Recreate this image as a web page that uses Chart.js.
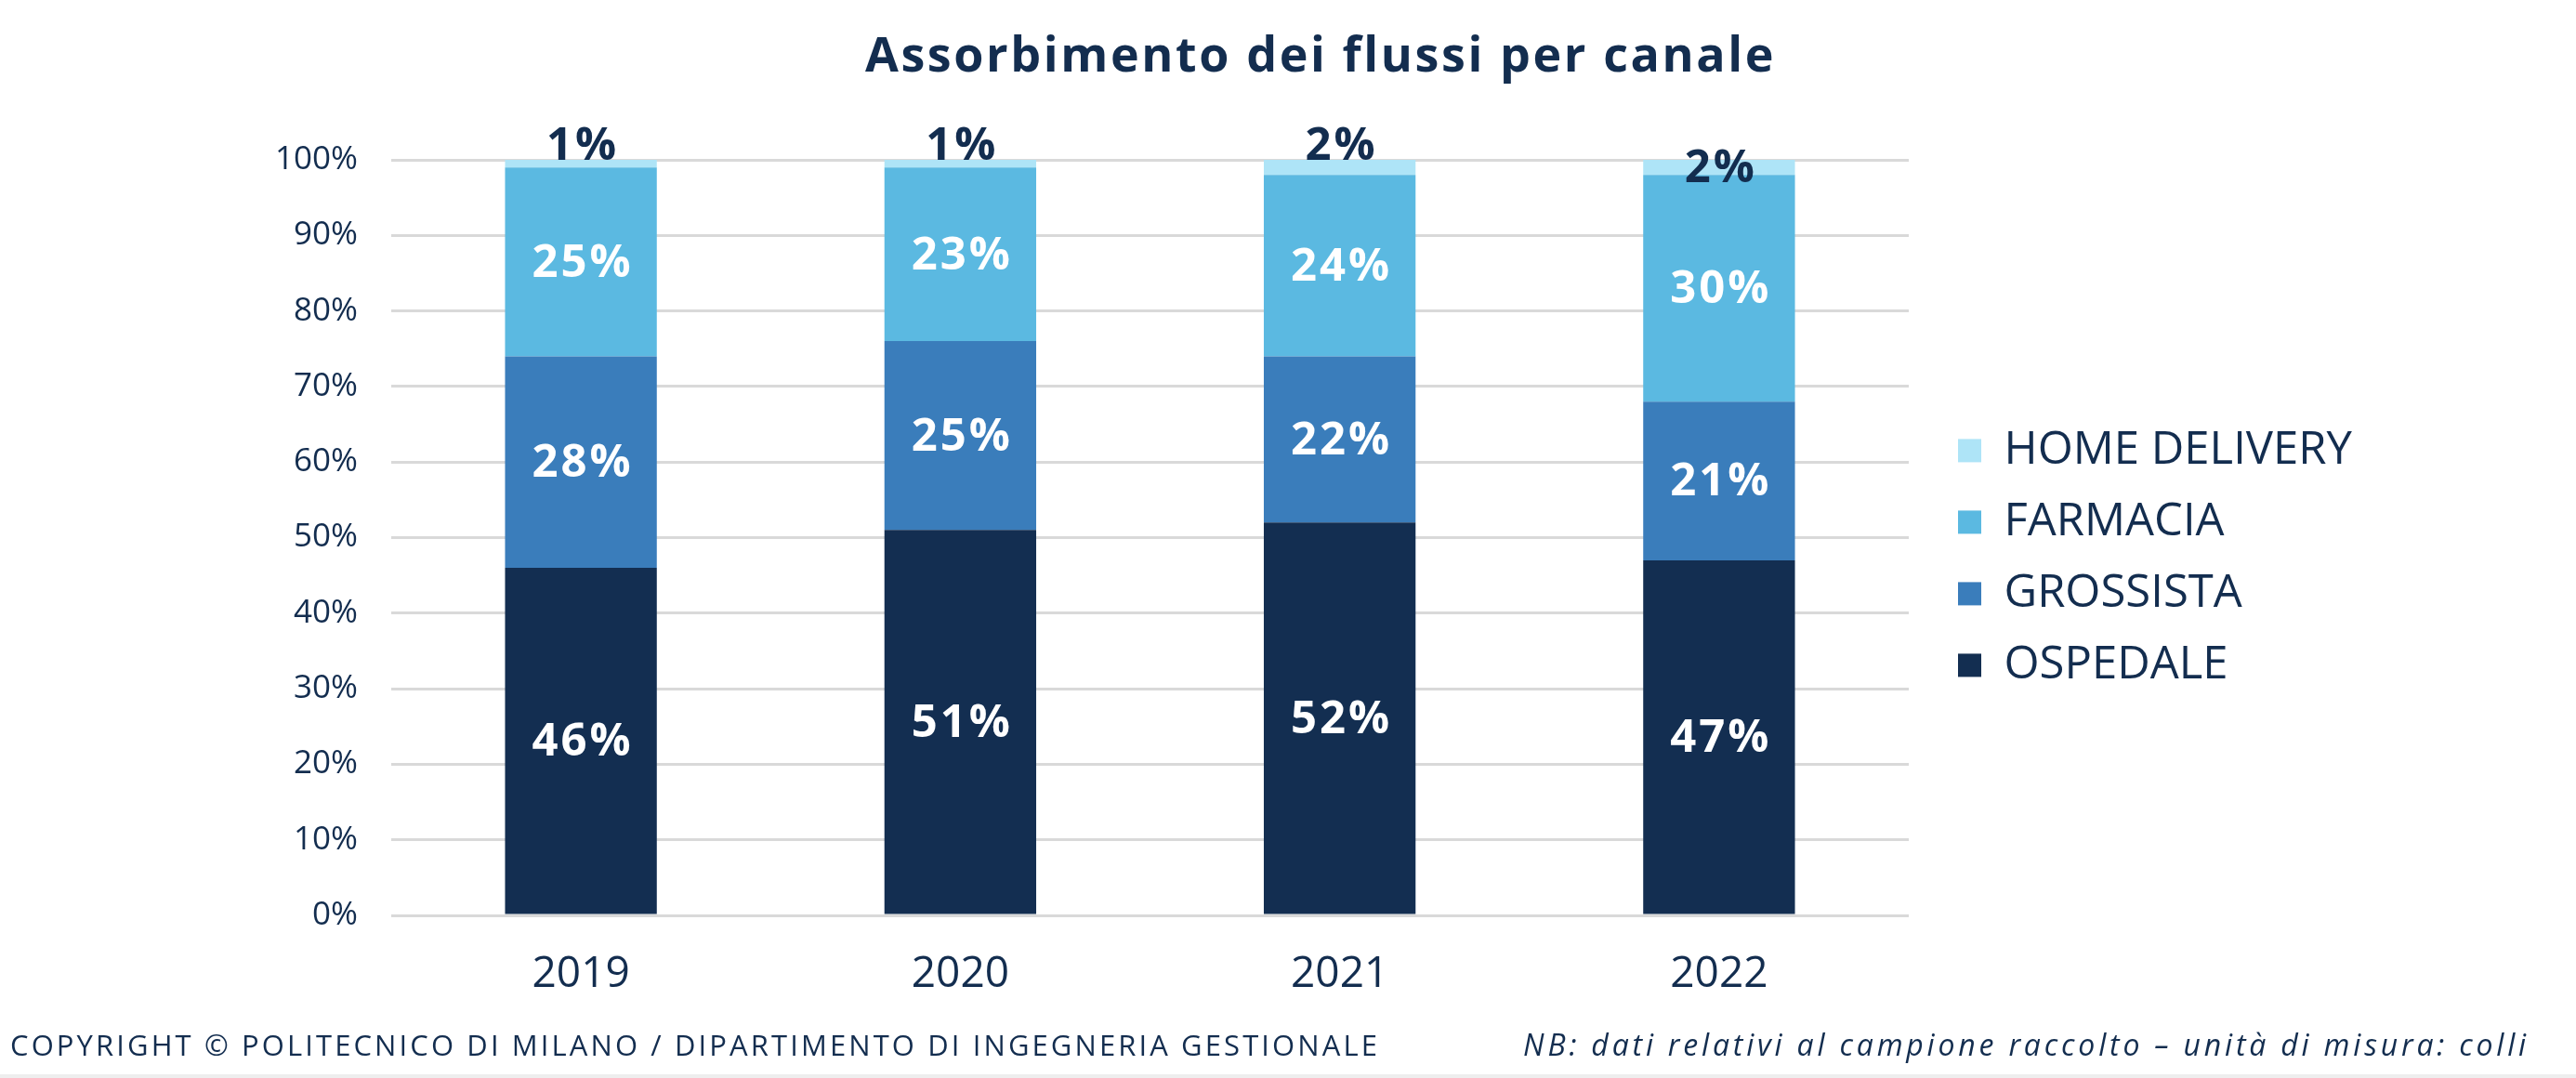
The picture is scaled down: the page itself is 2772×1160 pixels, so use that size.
<!DOCTYPE html>
<html>
<head>
<meta charset="utf-8">
<title>Assorbimento dei flussi per canale</title>
<script src="https://cdn.jsdelivr.net/npm/chart.js@4.4.1/dist/chart.umd.min.js"></script>
<style>
  html, body { margin: 0; padding: 0; background: #fff; }
  #wrap { position: relative; width: 2772px; height: 1160px; overflow: hidden; }
  #wrap canvas { position: absolute; left: 0; top: 0; }
  .txt { position: absolute; color: #132d4f; font-family: "Open Sans", sans-serif; white-space: nowrap; }
  #title { left: 1421px; top: 24px; transform: translateX(-50%); font-size: 52px; font-weight: 700; line-height: 66px; letter-spacing: 2.6px; }
  #copy { left: 11px; top: 1102px; font-size: 31px; line-height: 44px; letter-spacing: 3.1px; }
  #note { right: 50px; top: 1102px; font-size: 32px; line-height: 44px; font-style: italic; letter-spacing: 3.8px; }
  #rule { position: absolute; left: 0; right: 0; bottom: 0; height: 4px; background: #eeeeee; }
</style>
</head>
<body>
<div id="wrap">
  <canvas id="chart"></canvas>
  <div class="txt" id="title">Assorbimento dei flussi per canale</div>
  <div class="txt" id="copy">COPYRIGHT © POLITECNICO DI MILANO / DIPARTIMENTO DI INGEGNERIA GESTIONALE</div>
  <div class="txt" id="note">NB: dati relativi al campione raccolto – unità di misura: colli</div>
  <div id="rule"></div>
</div>
<script>
// Data (share of flows, %)
const years = ['2019', '2020', '2021', '2022'];
const channels = ['OSPEDALE', 'GROSSISTA', 'FARMACIA', 'HOME DELIVERY'];
const ospedale = [46, 51, 52, 47];
const grossista = [28, 25, 22, 21];
const farmacia = [25, 23, 24, 30];
const homeDelivery = [1, 1, 2, 2];
const yTickValues = [0, 10, 20, 30, 40, 50, 60, 70, 80, 90, 100];

const navy = '#132d4f';
const colors = ['#132e51', '#3a7dbb', '#5bb9e1', '#aee4f7'];
const font = '"Open Sans", sans-serif';
const legendSize = 49;
const legendPad = 28;

// Value labels drawn on the bar segments
const valueLabels = {
  id: 'valueLabels',
  afterDatasetsDraw(chart, args, opts) {
    const ctx = chart.ctx;
    ctx.save();
    ctx.font = `bold ${opts.size}px ${font}`;
    ctx.letterSpacing = '3px';
    ctx.textAlign = 'center';
    chart.data.datasets.forEach((ds, di) => {
      const meta = chart.getDatasetMeta(di);
      meta.data.forEach((bar, i) => {
        const text = ds.data[i] + '%';
        const outside = ds.labelOutside && ds.labelOutside[i];
        if (outside) {
          ctx.fillStyle = navy;
          ctx.textBaseline = 'alphabetic';
          ctx.fillText(text, bar.x + 2, bar.y);
        } else {
          ctx.fillStyle = ds.labelColor || '#fff';
          ctx.textBaseline = 'middle';
          ctx.fillText(text, bar.x + 2, (bar.y + bar.base) / 2 + 2);
        }
      });
    });
    ctx.restore();
  }
};

// room needed on the right for the legend
const m = document.createElement('canvas').getContext('2d');
m.font = `${legendSize}px ${font}`;
const legendText = Math.max(...channels.map(c => m.measureText(c).width));
const legendWidth = legendPad + 25 + legendSize / 2 + legendText + 10;
const rightPad = Math.max(0, 2772 - 2054 - 25 - legendWidth);

const seriesValues = [ospedale, grossista, farmacia, homeDelivery];

new Chart(document.getElementById('chart'), {
  type: 'bar',
  data: {
    labels: years,
    datasets: channels.map((name, k) => ({
      label: name,
      data: seriesValues[k],
      backgroundColor: colors[k],
      borderWidth: 0,
      barPercentage: 0.4,
      categoryPercentage: 1,
      labelColor: k === 3 ? navy : '#fff',
      labelOutside: k === 3 ? [true, true, true, false] : null
    }))
  },
  options: {
    responsive: true,
    maintainAspectRatio: false,
    devicePixelRatio: 1,
    animation: false,
    layout: { padding: { left: 0, right: rightPad, top: 172, bottom: 75 } },
    scales: {
      x: {
        stacked: true,
        grid: { display: false },
        border: { display: false },
        ticks: { color: navy, font: { family: font, size: 46 }, padding: 28 },
        afterFit(scale) { scale.height = 100; }
      },
      y: {
        stacked: true,
        min: 0,
        max: 100,
        afterBuildTicks(scale) { scale.ticks = yTickValues.map(v => ({ value: v })); },
        grid: { color: '#d9d9d9', lineWidth: 3, drawTicks: false },
        border: { display: false },
        ticks: {
          color: navy,
          font: { family: font, size: 35 },
          padding: 36,
          callback: v => v + '%'
        },
        afterFit(scale) { scale.width = 421; }
      },
      // hidden spacer between plot and legend
      gap: {
        position: 'right',
        display: false,
        afterFit(scale) { scale.width = 25; }
      }
    },
    plugins: {
      legend: {
        position: 'right',
        align: 'start',
        reverse: true,
        // empty title used only to push the items down
        title: { display: true, text: '', padding: 123 },
        labels: {
          color: navy,
          font: { family: font, size: legendSize },
          boxWidth: 25,
          boxHeight: 25,
          padding: legendPad
        }
      },
      tooltip: { enabled: false },
      valueLabels: { size: 49 }
    }
  },
  plugins: [valueLabels]
});
</script>
</body>
</html>
